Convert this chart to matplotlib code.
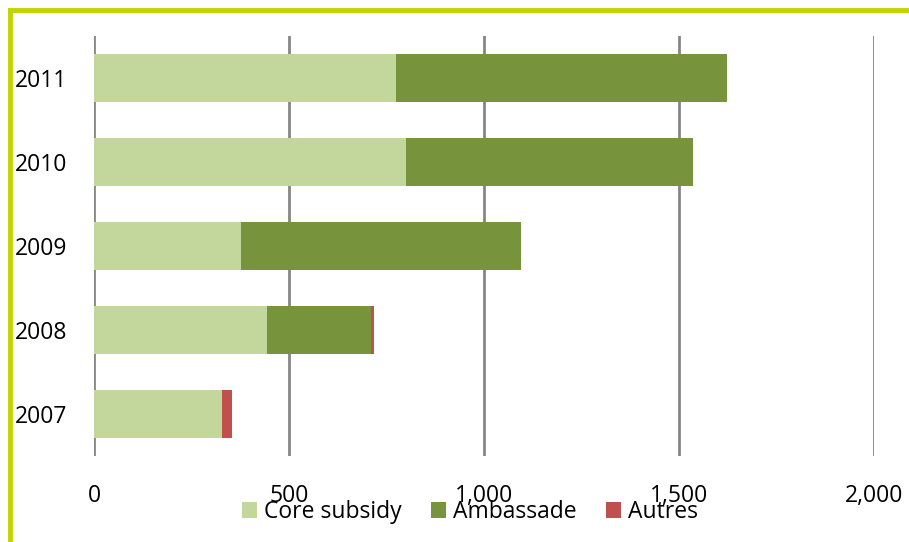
import matplotlib.pyplot as plt
from matplotlib.lines import Line2D
import numpy as np

# Funding by source per year
years = ['2007', '2008', '2009', '2010', '2011']
core_subsidy = [329, 444, 377, 800, 774]
ambassade = [0, 265, 718, 736, 849]
autres = [25, 9, 0, 0, 0]

COLORS = {
    'core': '#c3d69b',
    'ambassade': '#77933c',
    'autres': '#c0504d',
    'grid': '#868686',
    'frame': '#c2d300',
}

plt.rcParams['font.family'] = ['Open Sans', 'DejaVu Sans']

fig = plt.figure(figsize=(9.09, 5.42), dpi=100, facecolor='white')
ax = fig.add_axes([94 / 909, 1 - 456 / 542, 780 / 909, 420 / 542])

y = np.arange(len(years))
core = np.array(core_subsidy)
amb = np.array(ambassade)
aut = np.array(autres)
h = 0.57

ax.barh(y, core, height=h, color=COLORS['core'], label='Core subsidy', zorder=3)
ax.barh(y, amb, left=core, height=h, color=COLORS['ambassade'],
        label='Ambassade', zorder=3)
ax.barh(y, aut, left=core + amb, height=h, color=COLORS['autres'],
        label='Autres', zorder=3)

ax.set_xlim(0, 2000)
ax.set_ylim(-0.5, len(years) - 0.5)
ax.set_xticks([0, 500, 1000, 1500, 2000])
ax.set_xticklabels(['0', '500', '1,000', '1,500', '2,000'])
ax.set_yticks(y)
ax.set_yticklabels(years)
ax.tick_params(axis='x', length=0, pad=20, labelsize=16.5)
ax.tick_params(axis='y', length=0, pad=19, labelsize=16.5)
ax.grid(axis='x', color=COLORS['grid'], linewidth=2, zorder=0)
ax.set_axisbelow(True)
for s in ax.spines.values():
    s.set_visible(False)

# Legend sits low, partly over the tick labels
ax.legend(loc='center', bbox_to_anchor=(470 / 909, 1 - 512 / 542),
          bbox_transform=fig.transFigure, ncol=3, frameon=False,
          fontsize=16.5, handlelength=0.65, handleheight=0.65,
          handletextpad=0.3, columnspacing=1.3, borderpad=0)

# Left and top frame lines
fig.add_artist(Line2D([9.5 / 909, 9.5 / 909], [0, 1 - 9.5 / 542],
                      transform=fig.transFigure, color=COLORS['frame'],
                      linewidth=3.5, solid_capstyle='projecting'))
fig.add_artist(Line2D([9.5 / 909, 1], [1 - 9.5 / 542, 1 - 9.5 / 542],
                      transform=fig.transFigure, color=COLORS['frame'],
                      linewidth=3.5, solid_capstyle='projecting'))

fig.savefig('out.png', dpi=100, facecolor='white')
